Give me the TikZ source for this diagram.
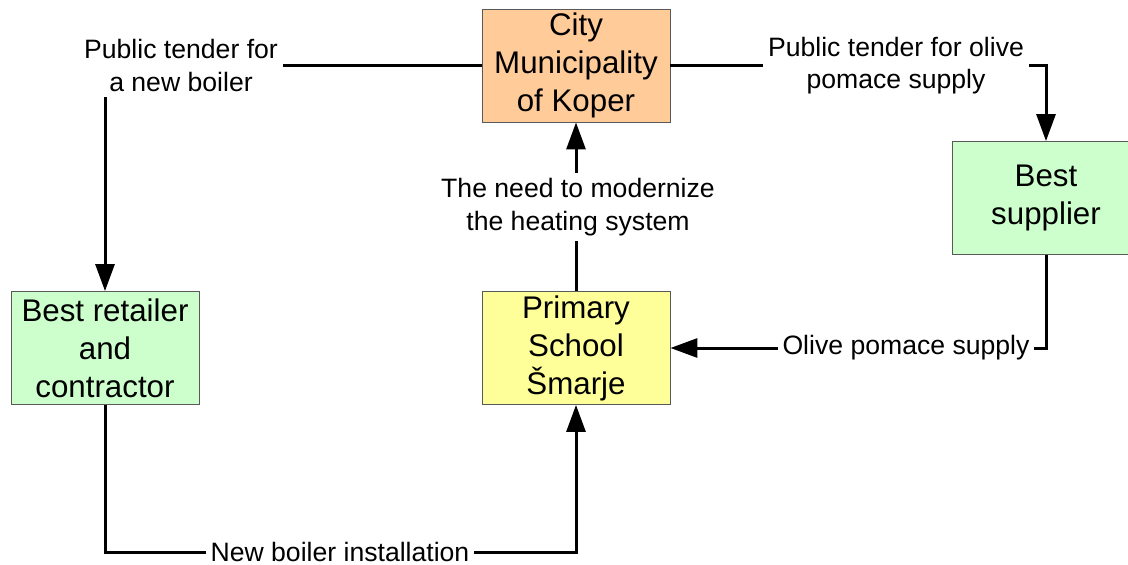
\documentclass[tikz,border=0pt]{standalone}
\usepackage{fontspec}
\setmainfont{Liberation Sans}
\usetikzlibrary{arrows.meta}

\definecolor{cityor}{HTML}{FFCC99}
\definecolor{actgreen}{HTML}{CCFFCC}
\definecolor{schoolyel}{HTML}{FFFF99}

\tikzset{
  box/.style={draw=black!65, line width=0.9pt, minimum width=188pt, minimum height=113pt,
    inner sep=0pt, align=center, font=\fontsize{31.3}{38}\selectfont},
  lbl/.style={fill=white, inner sep=5pt, align=center, font=\fontsize{26.6}{32.5}\selectfont},
  conn/.style={line width=3pt, -{Triangle[length=27pt,width=19pt]}}
}

\begin{document}
\begin{tikzpicture}[x=1pt,y=-1pt]
\clip (0,0) rectangle (1128,565);

\node[box, fill=cityor] (city) at (576,65.5) {City\\Municipality\\of Koper};
\node[box, fill=actgreen] (retail) at (105,348) {Best retailer\\and\\contractor};
\node[box, fill=schoolyel] (school) at (576,348) {Primary\\School\\Šmarje};
\node[box, fill=actgreen] (supplier) at (1046,198) {Best\\supplier};

\coordinate (bottom) at (340,552);

\draw[conn] (city.west) -| (retail.north);
\draw[conn] (city.east) -| (supplier.north);
\draw[conn] (school.north) -- (city.south);
\draw[conn] (supplier.south) |- (school.east);
\draw[conn] (retail.south) |- (bottom) -| (school.south);

\node[lbl] (boilertender) at (181,65.5) {Public tender for\\a new boiler};
\node[lbl] (olivetender) at (896,65.5) {Public tender for olive\\pomace supply};
\node[lbl] (need) at (578,207) {The need to modernize\\the heating system};
\node[lbl] (olive) at (906,348) {Olive pomace supply};
\node[lbl] (install) at (bottom) {New boiler installation};
\end{tikzpicture}
\end{document}
